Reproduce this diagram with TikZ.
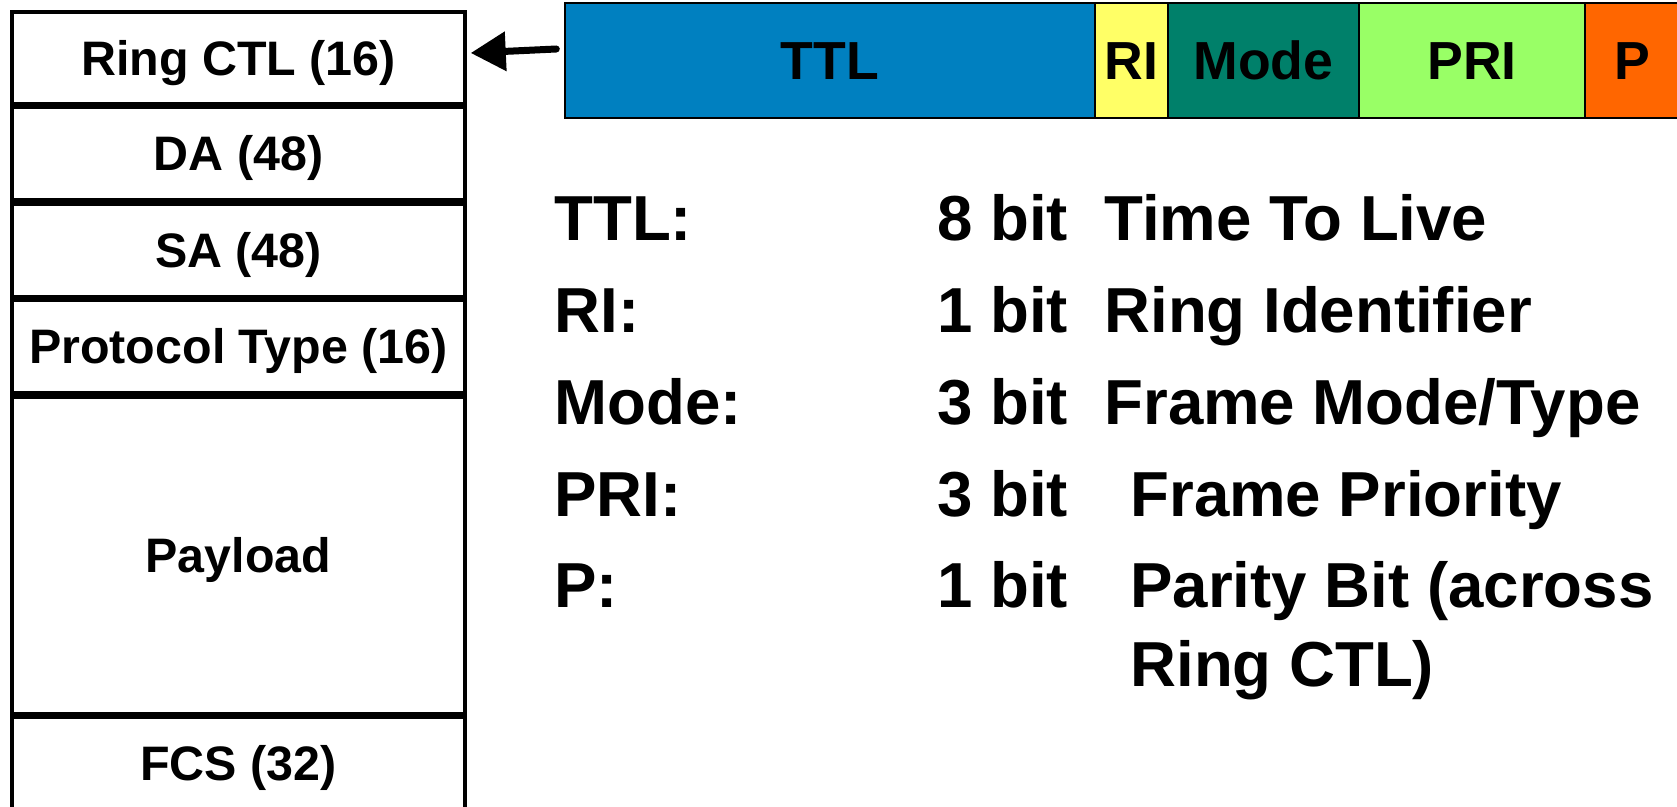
\documentclass[tikz,border=0pt]{standalone}
\usepackage{fontspec}
\setmainfont{Liberation Sans}
\usetikzlibrary{arrows.meta}
\definecolor{ttlblue}{RGB}{0,128,192}
\definecolor{riyellow}{RGB}{255,255,102}
\definecolor{modeteal}{RGB}{0,128,106}
\definecolor{prigreen}{RGB}{153,255,102}
\definecolor{porange}{RGB}{255,102,0}
\begin{document}
\begin{tikzpicture}[x=0.5pt,y=-0.5pt,
  fbox/.style={draw,line width=1.75pt,minimum width=226.5pt,inner sep=0pt,
    font=\bfseries\fontsize{24.2}{28}\selectfont,text height=17.3pt,text depth=0pt},
  seg/.style={draw,line width=0.7pt,inner sep=0pt,minimum height=57.5pt,
    font=\bfseries\fontsize{26.8}{32}\selectfont,text height=19.2pt,text depth=0pt},
  big/.style={anchor=base west,inner sep=0pt,font=\bfseries\fontsize{31.8}{38}\selectfont},
  ptr/.style={line width=3.5pt,line cap=round,-{Triangle[length=17.5pt,width=19pt]}}]
\useasboundingbox (0,0) rectangle (1677,807);
% frame fields
\node[fbox,minimum height=46pt]   (ring)    at (238.5,58)    {Ring CTL (16)};
\node[fbox,minimum height=46.5pt] (da)      at (238.5,153.5) {DA (48)};
\node[fbox,minimum height=46.5pt] (sa)      at (238.5,250.5) {SA (48)};
\node[fbox,minimum height=46.5pt] (proto)   at (238.5,346.5) {Protocol Type (16)};
\node[fbox,minimum height=158.5pt](payload) at (238.5,555.5) {Payload};
\node[fbox,minimum height=46pt]   (fcs)     at (238.5,763)   {FCS (32)};
% ring control bar
\node[seg,fill=ttlblue,minimum width=265pt]   (ttl)  at (830,60.5)    {TTL};
\node[seg,fill=riyellow,minimum width=36.5pt] (ri)   at (1131.5,60.5) {RI};
\node[seg,fill=modeteal,minimum width=95.5pt] (mode) at (1263.5,60.5) {Mode};
\node[seg,fill=prigreen,minimum width=113pt]  (pri)  at (1472,60.5)   {PRI};
\node[seg,fill=porange,minimum width=47pt]    (p)    at (1632,60.5)   {P};
% arrow
\draw[ptr] ([xshift=-4pt,yshift=5.75pt]ttl.west) -- ([xshift=2pt,yshift=2.5pt]ring.east);
% legend
\node[big] (k1) at (554,241) {TTL:};
\node[big] (b1) at (937,241) {8 bit};
\node[big] (d1) at (1104,241) {Time To Live};
\node[big] (k2) at (554,333) {RI:};
\node[big] (b2) at (937,333) {1 bit};
\node[big] (d2) at (1104,333) {Ring Identifier};
\node[big] (k3) at (554,425) {Mode:};
\node[big] (b3) at (937,425) {3 bit};
\node[big] (d3) at (1104,425) {Frame Mode/Type};
\node[big] (k4) at (554,517) {PRI:};
\node[big] (b4) at (937,517) {3 bit};
\node[big] (d4) at (1130,517) {Frame Priority};
\node[big] (k5) at (554,608) {P:};
\node[big] (b5) at (937,608) {1 bit};
\node[big] (d5) at (1130,608) {Parity Bit (across};
\node[big] (d6) at (1130,686) {Ring CTL)};
\end{tikzpicture}
\end{document}
